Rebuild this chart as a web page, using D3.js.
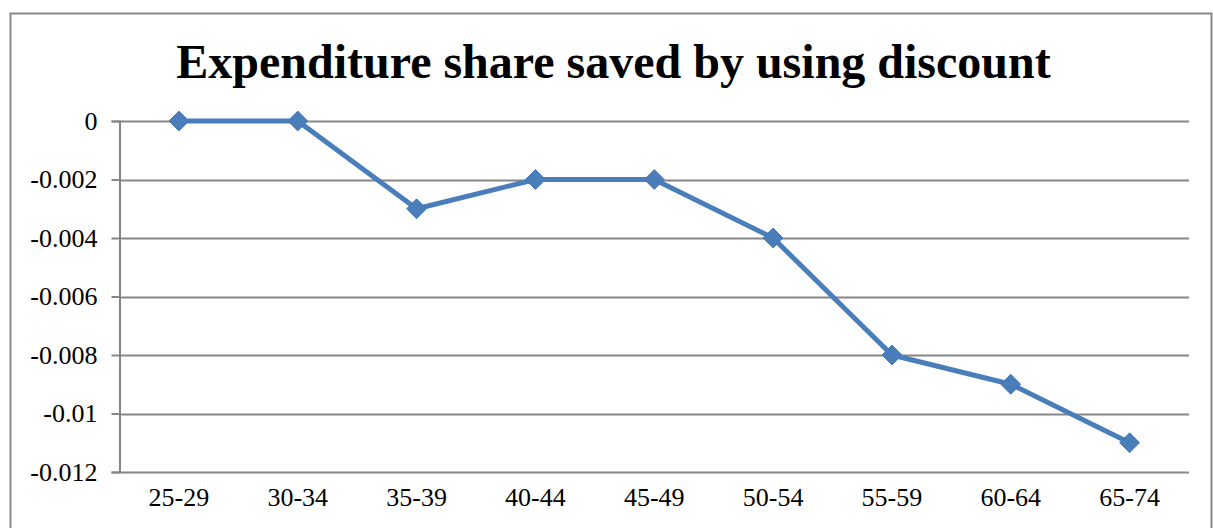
<!DOCTYPE html>
<html>
<head>
<meta charset="utf-8">
<script src="https://cdn.jsdelivr.net/npm/d3@7"></script>
<style>
  body { margin: 0; background: #fff; }
  text { font-family: "Liberation Serif", "Times New Roman", serif; fill: #000; }
</style>
</head>
<body>
<div id="chart"></div>
<script>
var ageGroups = ["25-29", "30-34", "35-39", "40-44", "45-49", "50-54", "55-59", "60-64", "65-74"];
var savedShare = [0, 0, -0.003, -0.002, -0.002, -0.004, -0.008, -0.009, -0.011];
var yTicks = [0, -0.002, -0.004, -0.006, -0.008, -0.01, -0.012];
var chartTitle = "Expenditure share saved by using discount";

var width = 1213, height = 528;
var svg = d3.select("#chart").append("svg")
    .attr("width", width)
    .attr("height", height);

// outer chart frame
svg.append("rect")
    .attr("x", 10.5).attr("y", 13.5)
    .attr("width", 1201).attr("height", 530)
    .attr("fill", "none")
    .attr("stroke", "#898989")
    .attr("stroke-width", 2);

var plotLeft = 119.5, plotRight = 1189, plotTop = 121, plotBottom = 472;

var x = d3.scaleBand().domain(ageGroups).range([plotLeft, plotRight]);
var y = d3.scaleLinear().domain([-0.012, 0]).range([plotBottom, plotTop]);

// gridlines
svg.append("g").selectAll("line")
    .data(yTicks)
    .enter().append("line")
    .attr("x1", plotLeft).attr("x2", plotRight)
    .attr("y1", function(d) { return Math.round(y(d)) + 0.5; })
    .attr("y2", function(d) { return Math.round(y(d)) + 0.5; })
    .attr("stroke", "#868686")
    .attr("stroke-width", 2);

// y axis
var yAxis = d3.axisLeft(y)
    .tickValues(yTicks)
    .tickSize(8)
    .tickPadding(14)
    .tickFormat(function(d) { return d === 0 ? "0" : String(+d.toFixed(3)); });
var gy = svg.append("g")
    .attr("transform", "translate(" + plotLeft + ",0)")
    .call(yAxis);
gy.select(".domain").attr("stroke", "#868686").attr("stroke-width", 2);
gy.selectAll(".tick line").attr("stroke", "#868686").attr("stroke-width", 2);
gy.selectAll(".tick text")
    .style("font-family", "'Liberation Serif', serif")
    .style("font-size", "26px")
    .attr("fill", "#000");

// x labels
var xAxis = d3.axisBottom(x).tickSize(0).tickPadding(16);
var gx = svg.append("g")
    .attr("transform", "translate(0," + plotBottom + ")")
    .call(xAxis);
gx.select(".domain").remove();
gx.selectAll(".tick text")
    .style("font-family", "'Liberation Serif', serif")
    .style("font-size", "26px")
    .attr("fill", "#000");

// line
var cx = function(d, i) { return x(ageGroups[i]) + x.bandwidth() / 2; };
var line = d3.line()
    .x(function(d, i) { return cx(d, i); })
    .y(function(d) { return y(d); });

svg.append("path")
    .datum(savedShare)
    .attr("d", line)
    .attr("fill", "none")
    .attr("stroke", "#4a7ebb")
    .attr("stroke-width", 5)
    .attr("stroke-linejoin", "round");

// diamond markers
svg.append("g").selectAll("path")
    .data(savedShare)
    .enter().append("path")
    .attr("d", d3.symbol().type(d3.symbolDiamond2).size(250))
    .attr("transform", function(d, i) { return "translate(" + cx(d, i) + "," + y(d) + ")"; })
    .attr("fill", "#4a7ebb")
    .attr("stroke", "#4577b5")
    .attr("stroke-width", 1);

// title
svg.append("text")
    .attr("x", 613.5)
    .attr("y", 78)
    .attr("text-anchor", "middle")
    .style("font-size", "48px")
    .style("font-weight", "bold")
    .text(chartTitle);
</script>
</body>
</html>
